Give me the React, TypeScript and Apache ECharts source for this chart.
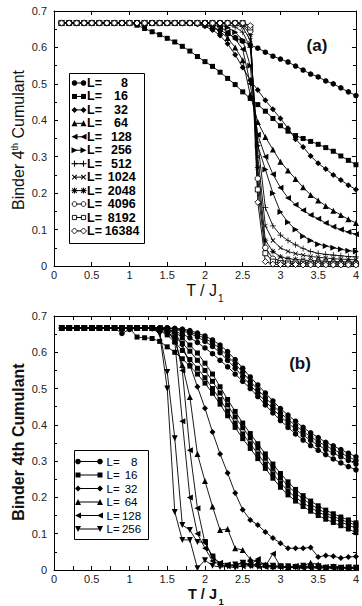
import React, { useEffect, useRef } from "react";
import * as echarts from "echarts";

// Temperature grid T / J1 shared by both panels
const T = [
  0.1, 0.2, 0.3, 0.4, 0.5, 0.6, 0.7, 0.8, 0.9, 1.0,
  1.1, 1.2, 1.3, 1.4, 1.5, 1.6, 1.7, 1.8, 1.9, 2.0,
  2.1, 2.2, 2.3, 2.4, 2.5, 2.6, 2.7, 2.8, 2.9, 3.0,
  3.1, 3.2, 3.3, 3.4, 3.5, 3.6, 3.7, 3.8, 3.9, 4.0,
];

// low-temperature plateau (2/3)
const H = 0.667;

// ---- panel (a) ----
const a8 = [H, H, H, H, H, H, H, H, H, H, H, H, H, H, H, H,
  0.667, 0.666, 0.665, 0.662, 0.656, 0.647, 0.637, 0.627, 0.617, 0.607, 0.598, 0.587,
  0.576, 0.568, 0.56, 0.549, 0.538, 0.527, 0.519, 0.508, 0.5, 0.489, 0.478, 0.468];
const a16 = [H, H, H, H, H, H, H, H, H, H,
  0.661, 0.652, 0.643, 0.635, 0.625, 0.615, 0.603, 0.59, 0.575, 0.561,
  0.548, 0.532, 0.515, 0.498, 0.478, 0.46, 0.443, 0.425, 0.405, 0.385,
  0.37, 0.358, 0.35, 0.342, 0.334, 0.325, 0.315, 0.302, 0.29, 0.278];
const a32 = [H, H, H, H, H, H, H, H, H, H, H, H, H, H, H, H, H, H,
  0.664, 0.658, 0.648, 0.633, 0.61, 0.58, 0.545, 0.51, 0.483, 0.455,
  0.43, 0.405, 0.378, 0.348, 0.327, 0.302, 0.282, 0.266, 0.25, 0.236, 0.222, 0.21];
const a64 = [H, H, H, H, H, H, H, H, H, H, H, H, H, H, H, H, H, H, H,
  0.663, 0.656, 0.644, 0.626, 0.6, 0.565, 0.47, 0.395, 0.354, 0.32,
  0.286, 0.262, 0.239, 0.216, 0.195, 0.18, 0.165, 0.152, 0.14, 0.128, 0.118];
const a128 = [H, H, H, H, H, H, H, H, H, H, H, H, H, H, H, H, H, H, H, H,
  0.663, 0.656, 0.643, 0.623, 0.595, 0.5, 0.36, 0.3, 0.252, 0.215,
  0.187, 0.168, 0.153, 0.14, 0.13, 0.118, 0.108, 0.1, 0.093, 0.087];
const a256 = [H, H, H, H, H, H, H, H, H, H, H, H, H, H, H, H, H, H, H, H, H,
  0.662, 0.655, 0.642, 0.62, 0.55, 0.33, 0.265, 0.2, 0.148, 0.12,
  0.1, 0.082, 0.07, 0.06, 0.055, 0.05, 0.046, 0.042, 0.04];
const a512 = [H, H, H, H, H, H, H, H, H, H, H, H, H, H, H, H, H, H, H, H, H, H,
  0.663, 0.656, 0.642, 0.6, 0.34, 0.16, 0.11, 0.085, 0.07, 0.058,
  0.048, 0.04, 0.035, 0.032, 0.03, 0.028, 0.026, 0.025];
const a1024 = [H, H, H, H, H, H, H, H, H, H, H, H, H, H, H, H, H, H, H, H, H, H, H,
  0.664, 0.655, 0.62, 0.3, 0.11, 0.07, 0.05, 0.04, 0.034, 0.03,
  0.026, 0.024, 0.022, 0.02, 0.019, 0.018, 0.017];
const a2048 = [H, H, H, H, H, H, H, H, H, H, H, H, H, H, H, H, H, H, H, H, H, H, H, H,
  0.662, 0.635, 0.27, 0.07, 0.04, 0.025, 0.02, 0.018, 0.016, 0.015,
  0.014, 0.013, 0.012, 0.012, 0.011, 0.011];
const a4096 = [H, H, H, H, H, H, H, H, H, H, H, H, H, H, H, H, H, H, H, H, H, H, H, H,
  0.665, 0.645, 0.24, 0.05, 0.02, 0.015, 0.012, 0.011, 0.01, 0.01,
  0.009, 0.009, 0.009, 0.008, 0.008, 0.008];
const a8192 = [H, H, H, H, H, H, H, H, H, H, H, H, H, H, H, H, H, H, H, H, H, H, H, H, H,
  0.655, 0.21, 0.035, 0.012, 0.008, 0.007, 0.007, 0.006, 0.006, 0.006,
  0.006, 0.005, 0.005, 0.005, 0.005];
const a16384 = [H, H, H, H, H, H, H, H, H, H, H, H, H, H, H, H, H, H, H, H, H, H, H, H, H,
  0.66, 0.175, 0.012, 0.005, 0.004, 0.004, 0.004, 0.003, 0.003, 0.003,
  0.003, 0.003, 0.003, 0.003, 0.003];

// ---- panel (b) ----
const b8_1 = [H, H, H, H, H, H, H, H, H, H, H, H, H, H, H,
  0.666, 0.664, 0.66, 0.653, 0.645, 0.634, 0.62, 0.602, 0.58, 0.556,
  0.532, 0.51, 0.488, 0.466, 0.445, 0.427, 0.41, 0.393, 0.378, 0.365,
  0.352, 0.342, 0.332, 0.322, 0.312];
const b8_2 = [H, H, H, H, H, H, H, H, H, H, H, H, H, H, H,
  0.665, 0.662, 0.656, 0.648, 0.638, 0.626, 0.61, 0.59, 0.568, 0.545,
  0.52, 0.497, 0.475, 0.454, 0.433, 0.415, 0.398, 0.382, 0.367, 0.354,
  0.342, 0.332, 0.322, 0.312, 0.302];
const b8_3 = [H, H, H, H, H, H, H, H, H, H, H, H, H, H, H,
  0.663, 0.659, 0.652, 0.642, 0.63, 0.616, 0.599, 0.578, 0.556, 0.533,
  0.51, 0.487, 0.465, 0.444, 0.423, 0.405, 0.388, 0.372, 0.357, 0.344,
  0.332, 0.322, 0.312, 0.302, 0.292];
const b8_4 = [H, H, H, H, H, H, H, H,
  0.652, 0.663, H, H, 0.665, 0.664, 0.663, 0.658, 0.65, 0.64,
  0.627, 0.612, 0.596, 0.578, 0.56, 0.54, 0.52, 0.5, 0.478, 0.455,
  0.433, 0.412, 0.393, 0.375, 0.358, 0.343, 0.33, 0.318, 0.306, 0.295,
  0.285, 0.276];
const b16_1 = [H, H, H, H, H, H, H, H, H, H, H, H, H,
  0.665, 0.66, 0.656, 0.64, 0.62, 0.598, 0.57, 0.54, 0.505, 0.47,
  0.437, 0.405, 0.376, 0.348, 0.32, 0.292, 0.266, 0.243, 0.222, 0.205,
  0.19, 0.177, 0.165, 0.155, 0.146, 0.138, 0.13];
const b16_2 = [H, H, H, H, H, H, H, H, H, H, H, H, H,
  0.662, 0.655, 0.642, 0.625, 0.603, 0.578, 0.55, 0.52, 0.488, 0.455,
  0.422, 0.392, 0.364, 0.336, 0.308, 0.28, 0.254, 0.232, 0.212, 0.196,
  0.181, 0.168, 0.157, 0.148, 0.139, 0.131, 0.124];
const b16_3 = [H, H, H, H, H, H, H, H, H, H, H, H, H,
  0.66, 0.648, 0.628, 0.605, 0.58, 0.556, 0.53, 0.5, 0.47, 0.438,
  0.405, 0.375, 0.348, 0.32, 0.292, 0.265, 0.24, 0.218, 0.2, 0.185,
  0.172, 0.16, 0.15, 0.141, 0.132, 0.124, 0.115];
const b16_4 = [H, H, H, H, H, H, H, H, H, H,
  0.642, 0.64, 0.638, 0.63, 0.615, 0.6, 0.582, 0.562, 0.54, 0.515,
  0.487, 0.457, 0.425, 0.393, 0.362, 0.335, 0.307, 0.28, 0.253, 0.228,
  0.207, 0.19, 0.175, 0.162, 0.15, 0.14, 0.131, 0.122, 0.113, 0.103];
const b32 = [H, H, H, H, H, H, H, H, H, H, H, H, H, H,
  0.665, 0.655, 0.62, 0.565, 0.505, 0.446, 0.38, 0.32, 0.267, 0.212,
  0.166, 0.138, 0.124, 0.105, 0.088, 0.074, 0.06, 0.06, 0.06, 0.062,
  0.036, 0.04, 0.038, 0.033, 0.036, 0.037];
const b64 = [H, H, H, H, H, H, H, H, H, H, H, H, H,
  0.665, 0.66, 0.632, 0.565, 0.477, 0.32, 0.245, 0.175, 0.11, 0.113,
  0.06, 0.055, 0.03, 0.022, 0.015, 0.01, 0.012, 0.008, 0.01, 0.012,
  0.02, 0.015, 0.008, 0.01, 0.006, 0.008, 0.007];
const b128_1 = [H, H, H, H, H, H, H, H, H, H, H, H, H, H,
  0.66, 0.63, 0.41, 0.2, 0.1, 0.06, 0.025, 0.015, 0.01, 0.012,
  0.02, 0.015, 0.03, 0.01, 0.045, 0.01, 0.008, 0.012, 0.01, 0.008,
  0.01, 0.008, 0.009, 0.007, 0.008, 0.007];
const b128_2 = [H, H, H, H, H, H, H, H, H, H, H, H, H, H,
  0.663, 0.645, 0.55, 0.33, 0.17, 0.075, 0.035, 0.02, 0.015, 0.012,
  0.01, 0.012, 0.01, 0.008, 0.01, 0.008, 0.006, 0.008, 0.006, 0.007,
  0.005, 0.006, 0.005, 0.006, 0.005, 0.005];
const b256_1 = [H, H, H, H, H, H, H, H, H, H, H, H, H,
  0.655, 0.546, 0.363, 0.124, 0.11, 0.077, 0.077, 0.037, 0.015, 0.012,
  0.015, 0.02, 0.01, 0.02, 0.01, 0.012, 0.008, 0.01, 0.008, 0.012,
  0.008, 0.01, 0.006, 0.008, 0.006, 0.007, 0.006];
const b256_2 = [H, H, H, H, H, H, H, H, H, H, H, H, H,
  0.65, 0.5, 0.16, 0.083, 0.083, 0.005, 0.027, 0.012, 0.008, 0.01,
  0.006, 0.012, 0.02, 0.008, 0.012, 0.006, 0.01, 0.005, 0.008, 0.006,
  0.005, 0.007, 0.005, 0.006, 0.004, 0.005, 0.004];

// axis ticks
const xTicks = { min: 0, max: 4, interval: 0.5 };
const yTicks = { min: 0, max: 0.7, interval: 0.1 };

// legend entries: system sizes L
const sizesA = ["8", "16", "32", "64", "128", "256", "512", "1024", "2048", "4096", "8192", "16384"];
const sizesB = ["8", "16", "32", "64", "128", "256"];

const FONT = "'Liberation Sans', Arial, Helvetica, sans-serif";

const PLUS = "path://M0,4.4H10V5.6H0ZM4.4,0H5.6V10H4.4Z";
const STAR = "path://M0,4.4H10V5.6H0ZM4.4,0H5.6V10H4.4Z" +
  "M1.08,1.92L1.92,1.08L8.92,8.08L8.08,8.92Z" +
  "M8.08,1.08L8.92,1.92L1.92,8.92L1.08,8.08Z";

type Kind = "circle" | "square" | "diamond" | "triUp" | "triLeft" | "triRight" | "triDown" |
  "plus" | "cross" | "star" | "oCircle" | "oSquare" | "oDiamond";

const MARKS: Record<Kind, { symbol: string; rotate?: number; open?: boolean }> = {
  circle: { symbol: "circle" },
  square: { symbol: "rect" },
  diamond: { symbol: "diamond" },
  triUp: { symbol: "triangle" },
  triLeft: { symbol: "triangle", rotate: 90 },
  triRight: { symbol: "triangle", rotate: -90 },
  triDown: { symbol: "triangle", rotate: 180 },
  plus: { symbol: PLUS },
  cross: { symbol: PLUS, rotate: 45 },
  star: { symbol: STAR },
  oCircle: { symbol: "circle", open: true },
  oSquare: { symbol: "rect", open: true },
  oDiamond: { symbol: "diamond", open: true },
};

const kindsA: Kind[] = ["circle", "square", "diamond", "triUp", "triLeft", "triRight",
  "plus", "cross", "star", "oCircle", "oSquare", "oDiamond"];
const kindsB: Kind[] = ["circle", "square", "diamond", "triUp", "triLeft", "triDown"];

const SIZE: Record<Kind, number> = {
  circle: 5.5, square: 5, diamond: 6, triUp: 6, triLeft: 6, triRight: 6, triDown: 6,
  plus: 6, cross: 6, star: 6, oCircle: 5.5, oSquare: 5, oDiamond: 6,
};

function lineSeries(vals: number[], kind: Kind, panel: number) {
  const m = MARKS[kind];
  return {
    type: "line",
    xAxisIndex: panel * 2,
    yAxisIndex: panel * 2,
    data: T.map((t, i) => [t, vals[i]]),
    symbol: m.symbol,
    symbolRotate: m.rotate || 0,
    symbolSize: SIZE[kind],
    showAllSymbol: true,
    silent: true,
    lineStyle: { color: "#000", width: 0.9 },
    itemStyle: m.open
      ? { color: "#fff", borderColor: "#000", borderWidth: 0.9 }
      : { color: "#000", borderWidth: 0 },
    emphasis: { disabled: true },
  };
}

function xAxes(grid: number, minor: boolean) {
  const base = {
    type: "value",
    gridIndex: grid,
    ...xTicks,
    splitLine: { show: false },
    axisLine: { show: true, onZero: false, lineStyle: { color: "#000", width: 1 } },
    axisTick: { show: true, inside: true, length: 4, lineStyle: { color: "#000", width: 1 } },
    minorTick: { show: minor, splitNumber: 2, length: 4, lineStyle: { color: "#000", width: 1 } },
  };
  return [
    {
      ...base,
      position: "bottom",
      axisLabel: { show: true, margin: 3, fontSize: 11, fontFamily: FONT, color: "#222" },
    },
    { ...base, position: "top", axisLabel: { show: false } },
  ];
}

function yAxes(grid: number) {
  const base = {
    type: "value",
    gridIndex: grid,
    ...yTicks,
    splitLine: { show: false },
    axisLine: { show: true, onZero: false, lineStyle: { color: "#000", width: 1 } },
    axisTick: { show: true, inside: true, length: 4, lineStyle: { color: "#000", width: 1 } },
    minorTick: { show: true, splitNumber: 2, length: 3, lineStyle: { color: "#000", width: 1 } },
  };
  return [
    {
      ...base,
      position: "left",
      axisLabel: { show: true, margin: 7, fontSize: 11, fontFamily: FONT, color: "#222" },
    },
    { ...base, position: "right", axisLabel: { show: false } },
  ];
}

// one legend marker drawn as graphic primitives
function markEls(kind: Kind, cx: number, cy: number) {
  const s = SIZE[kind];
  const r = s / 2;
  const F = { fill: "#000" };
  const O = { fill: "#fff", stroke: "#000", lineWidth: 0.9 };
  const L = { stroke: "#000", lineWidth: 1.1 };
  const poly = (pts: number[][], st: object) => ({ type: "polygon", z: 20, shape: { points: pts }, style: st });
  const ln = (x1: number, y1: number, x2: number, y2: number) =>
    ({ type: "line", z: 20, shape: { x1, y1, x2, y2 }, style: L });
  switch (kind) {
    case "circle": return [{ type: "circle", z: 20, shape: { cx, cy, r }, style: F }];
    case "square": return [{ type: "rect", z: 20, shape: { x: cx - r, y: cy - r, width: s, height: s }, style: F }];
    case "diamond": return [poly([[cx, cy - r], [cx + r, cy], [cx, cy + r], [cx - r, cy]], F)];
    case "triUp": return [poly([[cx, cy - r], [cx + r, cy + r], [cx - r, cy + r]], F)];
    case "triDown": return [poly([[cx, cy + r], [cx + r, cy - r], [cx - r, cy - r]], F)];
    case "triLeft": return [poly([[cx - r, cy], [cx + r, cy - r], [cx + r, cy + r]], F)];
    case "triRight": return [poly([[cx + r, cy], [cx - r, cy - r], [cx - r, cy + r]], F)];
    case "plus": return [ln(cx - r, cy, cx + r, cy), ln(cx, cy - r, cx, cy + r)];
    case "cross": {
      const d = r * 0.75;
      return [ln(cx - d, cy - d, cx + d, cy + d), ln(cx - d, cy + d, cx + d, cy - d)];
    }
    case "star": {
      const d = r * 0.75;
      return [ln(cx - r, cy, cx + r, cy), ln(cx, cy - r, cx, cy + r),
        ln(cx - d, cy - d, cx + d, cy + d), ln(cx - d, cy + d, cx + d, cy - d)];
    }
    case "oCircle": return [{ type: "circle", z: 20, shape: { cx, cy, r: r - 0.4 }, style: O }];
    case "oSquare": return [{ type: "rect", z: 20, shape: { x: cx - r + 0.4, y: cy - r + 0.4, width: s - 0.8, height: s - 0.8 }, style: O }];
    case "oDiamond": return [poly([[cx, cy - r], [cx + r, cy], [cx, cy + r], [cx - r, cy]], O)];
  }
  return [];
}

// legend box: "L=" then the size, whose right edge steps out with its digit count
function legendEls(
  sizes: string[], kinds: Kind[],
  box: { x: number; y: number; w: number; h: number },
  row0: number, step: number, x1: number, x2: number, tx: number,
  numRight: number, digitStep: number,
  font: { size: number; weight: string },
) {
  const els: any[] = [{
    type: "rect", z: 15,
    shape: { x: box.x + 0.5, y: box.y + 0.5, width: box.w, height: box.h },
    style: { fill: "#fff", stroke: "#000", lineWidth: 1 },
  }];
  const textStyle = { fill: "#000", fontSize: font.size, fontWeight: font.weight, fontFamily: FONT, verticalAlign: "middle" };
  sizes.forEach((n, i) => {
    const cy = row0 + i * step;
    els.push({ type: "line", z: 18, shape: { x1, y1: cy, x2, y2: cy }, style: { stroke: "#000", lineWidth: 1 } });
    els.push(...markEls(kinds[i], x1, cy), ...markEls(kinds[i], x2, cy));
    els.push({ type: "text", z: 20, x: tx, y: cy, style: { ...textStyle, text: "L=", align: "left" } });
    els.push({
      type: "text", z: 20, x: numRight + digitStep * Math.max(0, n.length - 2), y: cy,
      style: { ...textStyle, text: n, align: "right" },
    });
  });
  return els;
}

function buildOption() {
  const seriesA = [a8, a16, a32, a64, a128, a256, a512, a1024, a2048, a4096, a8192, a16384]
    .map((v, i) => lineSeries(v, kindsA[i], 0));
  const seriesB = [
    lineSeries(b8_1, "circle", 1), lineSeries(b8_2, "circle", 1),
    lineSeries(b8_3, "circle", 1), lineSeries(b8_4, "circle", 1),
    lineSeries(b16_1, "square", 1), lineSeries(b16_2, "square", 1),
    lineSeries(b16_3, "square", 1), lineSeries(b16_4, "square", 1),
    lineSeries(b32, "diamond", 1),
    lineSeries(b64, "triUp", 1),
    lineSeries(b128_1, "triLeft", 1), lineSeries(b128_2, "triLeft", 1),
    lineSeries(b256_1, "triDown", 1), lineSeries(b256_2, "triDown", 1),
  ];

  const txt = (x: number, y: number, text: string, size: number, weight: string, align = "center") => ({
    type: "text", z: 20, x, y,
    style: { text, fill: "#111", fontSize: size, fontWeight: weight, fontFamily: FONT, align, verticalAlign: "middle" },
  });

  const graphic: any[] = [
    txt(317, 45, "(a)", 17, "bold"),
    txt(300, 363, "(b)", 17, "bold"),
    txt(217, 290, "T / J", 16, "normal", "right"),
    txt(218, 298, "1", 10, "normal", "left"),
    txt(217, 594, "T / J", 14.5, "bold", "right"),
    txt(218.5, 601.5, "1", 9.5, "bold", "left"),
    {
      type: "text", z: 20, x: 18, y: 140, rotation: Math.PI / 2,
      style: {
        text: "{m|Binder 4}{s|th}{m| Cumulant}",
        align: "center", verticalAlign: "middle",
        rich: {
          m: { fontSize: 16, fontFamily: FONT, fill: "#111", lineHeight: 16 },
          s: { fontSize: 9, fontFamily: FONT, fill: "#111", lineHeight: 8, verticalAlign: "top" },
        },
      },
    },
    {
      type: "text", z: 20, x: 18, y: 442, rotation: Math.PI / 2,
      style: {
        text: "Binder 4th Cumulant", fill: "#111", fontSize: 16, fontWeight: "bold", fontFamily: FONT,
        align: "center", verticalAlign: "middle",
      },
    },
    ...legendEls(sizesA, kindsA, { x: 69, y: 73, w: 75, h: 170 }, 83, 13.45, 74.5, 83.5, 87,
      128, 3.8, { size: 12.5, weight: "bold" }),
    ...legendEls(sizesB, kindsB, { x: 74, y: 450, w: 74, h: 89 }, 461.5, 13.5, 78, 100, 106.5,
      137.5, 3.6, { size: 11.5, weight: "normal" }),
  ];

  return {
    animation: false,
    backgroundColor: "#fff",
    grid: [
      { left: 54, top: 11, width: 308, height: 255, containLabel: false },
      { left: 54, top: 316, width: 308, height: 254, containLabel: false },
    ],
    xAxis: [...xAxes(0, false), ...xAxes(1, true)],
    yAxis: [...yAxes(0), ...yAxes(1)],
    series: [...seriesA, ...seriesB],
    graphic,
  };
}

export default function App() {
  const ref = useRef<HTMLDivElement>(null);
  useEffect(() => {
    if (!ref.current) return;
    const chart = echarts.init(ref.current, undefined, { renderer: "svg" });
    chart.setOption(buildOption() as any);
    return () => chart.dispose();
  }, []);
  return (
    <div
      ref={ref}
      style={{ position: "fixed", left: 0, top: 0, width: 362, height: 606, background: "#fff" }}
    />
  );
}
